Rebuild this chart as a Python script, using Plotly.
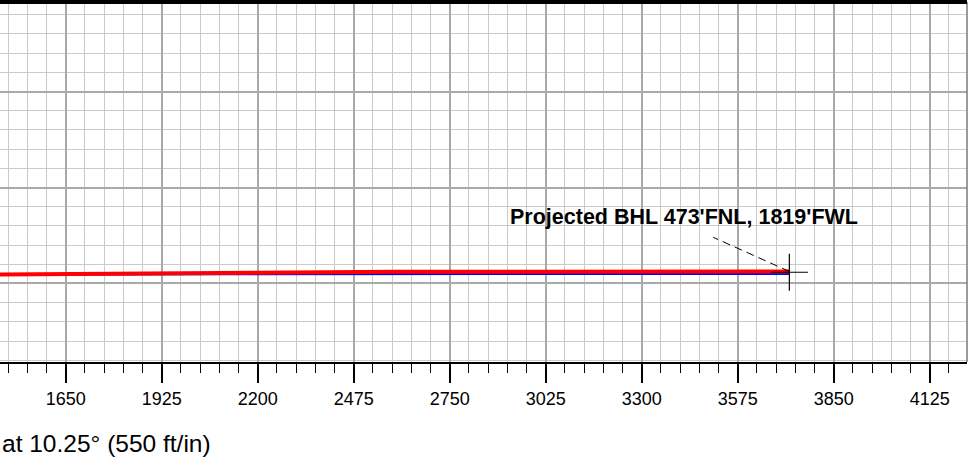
import plotly.graph_objects as go

# Vertical section (ft) and TVD (ft) of the two well paths
vs_red = [1400, 1460, 1550, 1650, 1750, 1850, 1950, 2100, 2300, 2600, 3000, 3400, 3723]
tvd_red = [10699.6, 10699.2, 10698.4, 10697.0, 10695.6, 10694.3, 10693.4, 10692.6, 10692.0, 10691.6, 10691.1, 10690.6, 10690.3]
vs_blue = [1400, 1460, 1600, 1800, 2100, 2500, 3000, 3400, 3723]
tvd_blue = [10699.6, 10699.2, 10698.6, 10698.1, 10697.9, 10697.8, 10697.6, 10697.3, 10696.6]

bhl_vs = [3723]
bhl_tvd = [10692.8]
bhl_label = "Projected BHL 473'FNL, 1819'FWL"
leader_vs = [3723, 3505]
leader_tvd = [10690.5, 10592.7]

x_ticks = [1650, 1925, 2200, 2475, 2750, 3025, 3300, 3575, 3850, 4125]
x_range = [1461.8, 4231.9]
y_range = [10949.9, 9918.6]
footer = "at 10.25° (550 ft/in)"

fig = go.Figure()
fig.add_trace(go.Scatter(x=vs_blue, y=tvd_blue, mode="lines",
                         line=dict(color="#0000ff", width=2.6), hoverinfo="skip"))
fig.add_trace(go.Scatter(x=vs_red, y=tvd_red, mode="lines",
                         line=dict(color="#ff0000", width=4), hoverinfo="skip"))
fig.add_trace(go.Scatter(x=leader_vs, y=leader_tvd, mode="lines",
                         line=dict(color="black", width=1, dash="8px,5px"), hoverinfo="skip"))
fig.add_trace(go.Scatter(x=bhl_vs, y=bhl_tvd, mode="markers",
                         marker=dict(symbol="cross-thin-open", size=26.5, color="black",
                                     line=dict(color="black", width=1.2)),
                         hoverinfo="skip"))

fig.add_annotation(x=3419.8, y=10535.9, xref="x", yref="y", text="<b>" + bhl_label + "</b>",
                   showarrow=False, xanchor="center", yanchor="middle",
                   font=dict(family="Liberation Sans, Arial", size=21.5, color="black"))
fig.add_annotation(x=0, y=-0.225, xref="paper", yref="paper", text=footer,
                   showarrow=False, xanchor="left", yanchor="middle",
                   font=dict(family="Liberation Sans, Arial", size=24.5, color="black"))

fig.add_shape(type="line", xref="paper", yref="paper", x0=1, x1=1, y0=0, y1=1,
              line=dict(color="#7a7a7a", width=1.5))
fig.add_shape(type="line", xref="paper", yref="paper", x0=0, x1=1, y0=0.998, y1=0.998,
              line=dict(color="black", width=2.5))

fig.update_xaxes(range=x_range, tickmode="array", tickvals=x_ticks,
                 ticktext=[str(v) for v in x_ticks],
                 showgrid=True, gridcolor="#a9a9a9", gridwidth=2,
                 zeroline=False, showline=True, linecolor="black", linewidth=2, mirror=True,
                 ticks="outside", ticklen=19, tickwidth=2, tickcolor="black",
                 tickfont=dict(family="Liberation Sans, Arial", size=18, color="black"),
                 minor=dict(dtick=55, tick0=0, showgrid=True, gridcolor="#cbcbcb", gridwidth=1.3,
                            ticks="outside", ticklen=9, tickwidth=1.3, tickcolor="black"))
fig.update_yaxes(range=y_range, dtick=275, tick0=0, showticklabels=False,
                 showgrid=True, gridcolor="#a9a9a9", gridwidth=2, zeroline=False,
                 showline=False, ticks="",
                 minor=dict(dtick=55, tick0=0, showgrid=True, gridcolor="#cbcbcb", gridwidth=1.3))

fig.update_layout(width=973, height=457, margin=dict(l=0, r=6, t=2, b=95),
                  plot_bgcolor="white", paper_bgcolor="white", showlegend=False)

fig.write_html("out.html", config={"displayModeBar": False},
               post_script="document.body.style.margin='0';document.body.style.overflow='hidden';")
